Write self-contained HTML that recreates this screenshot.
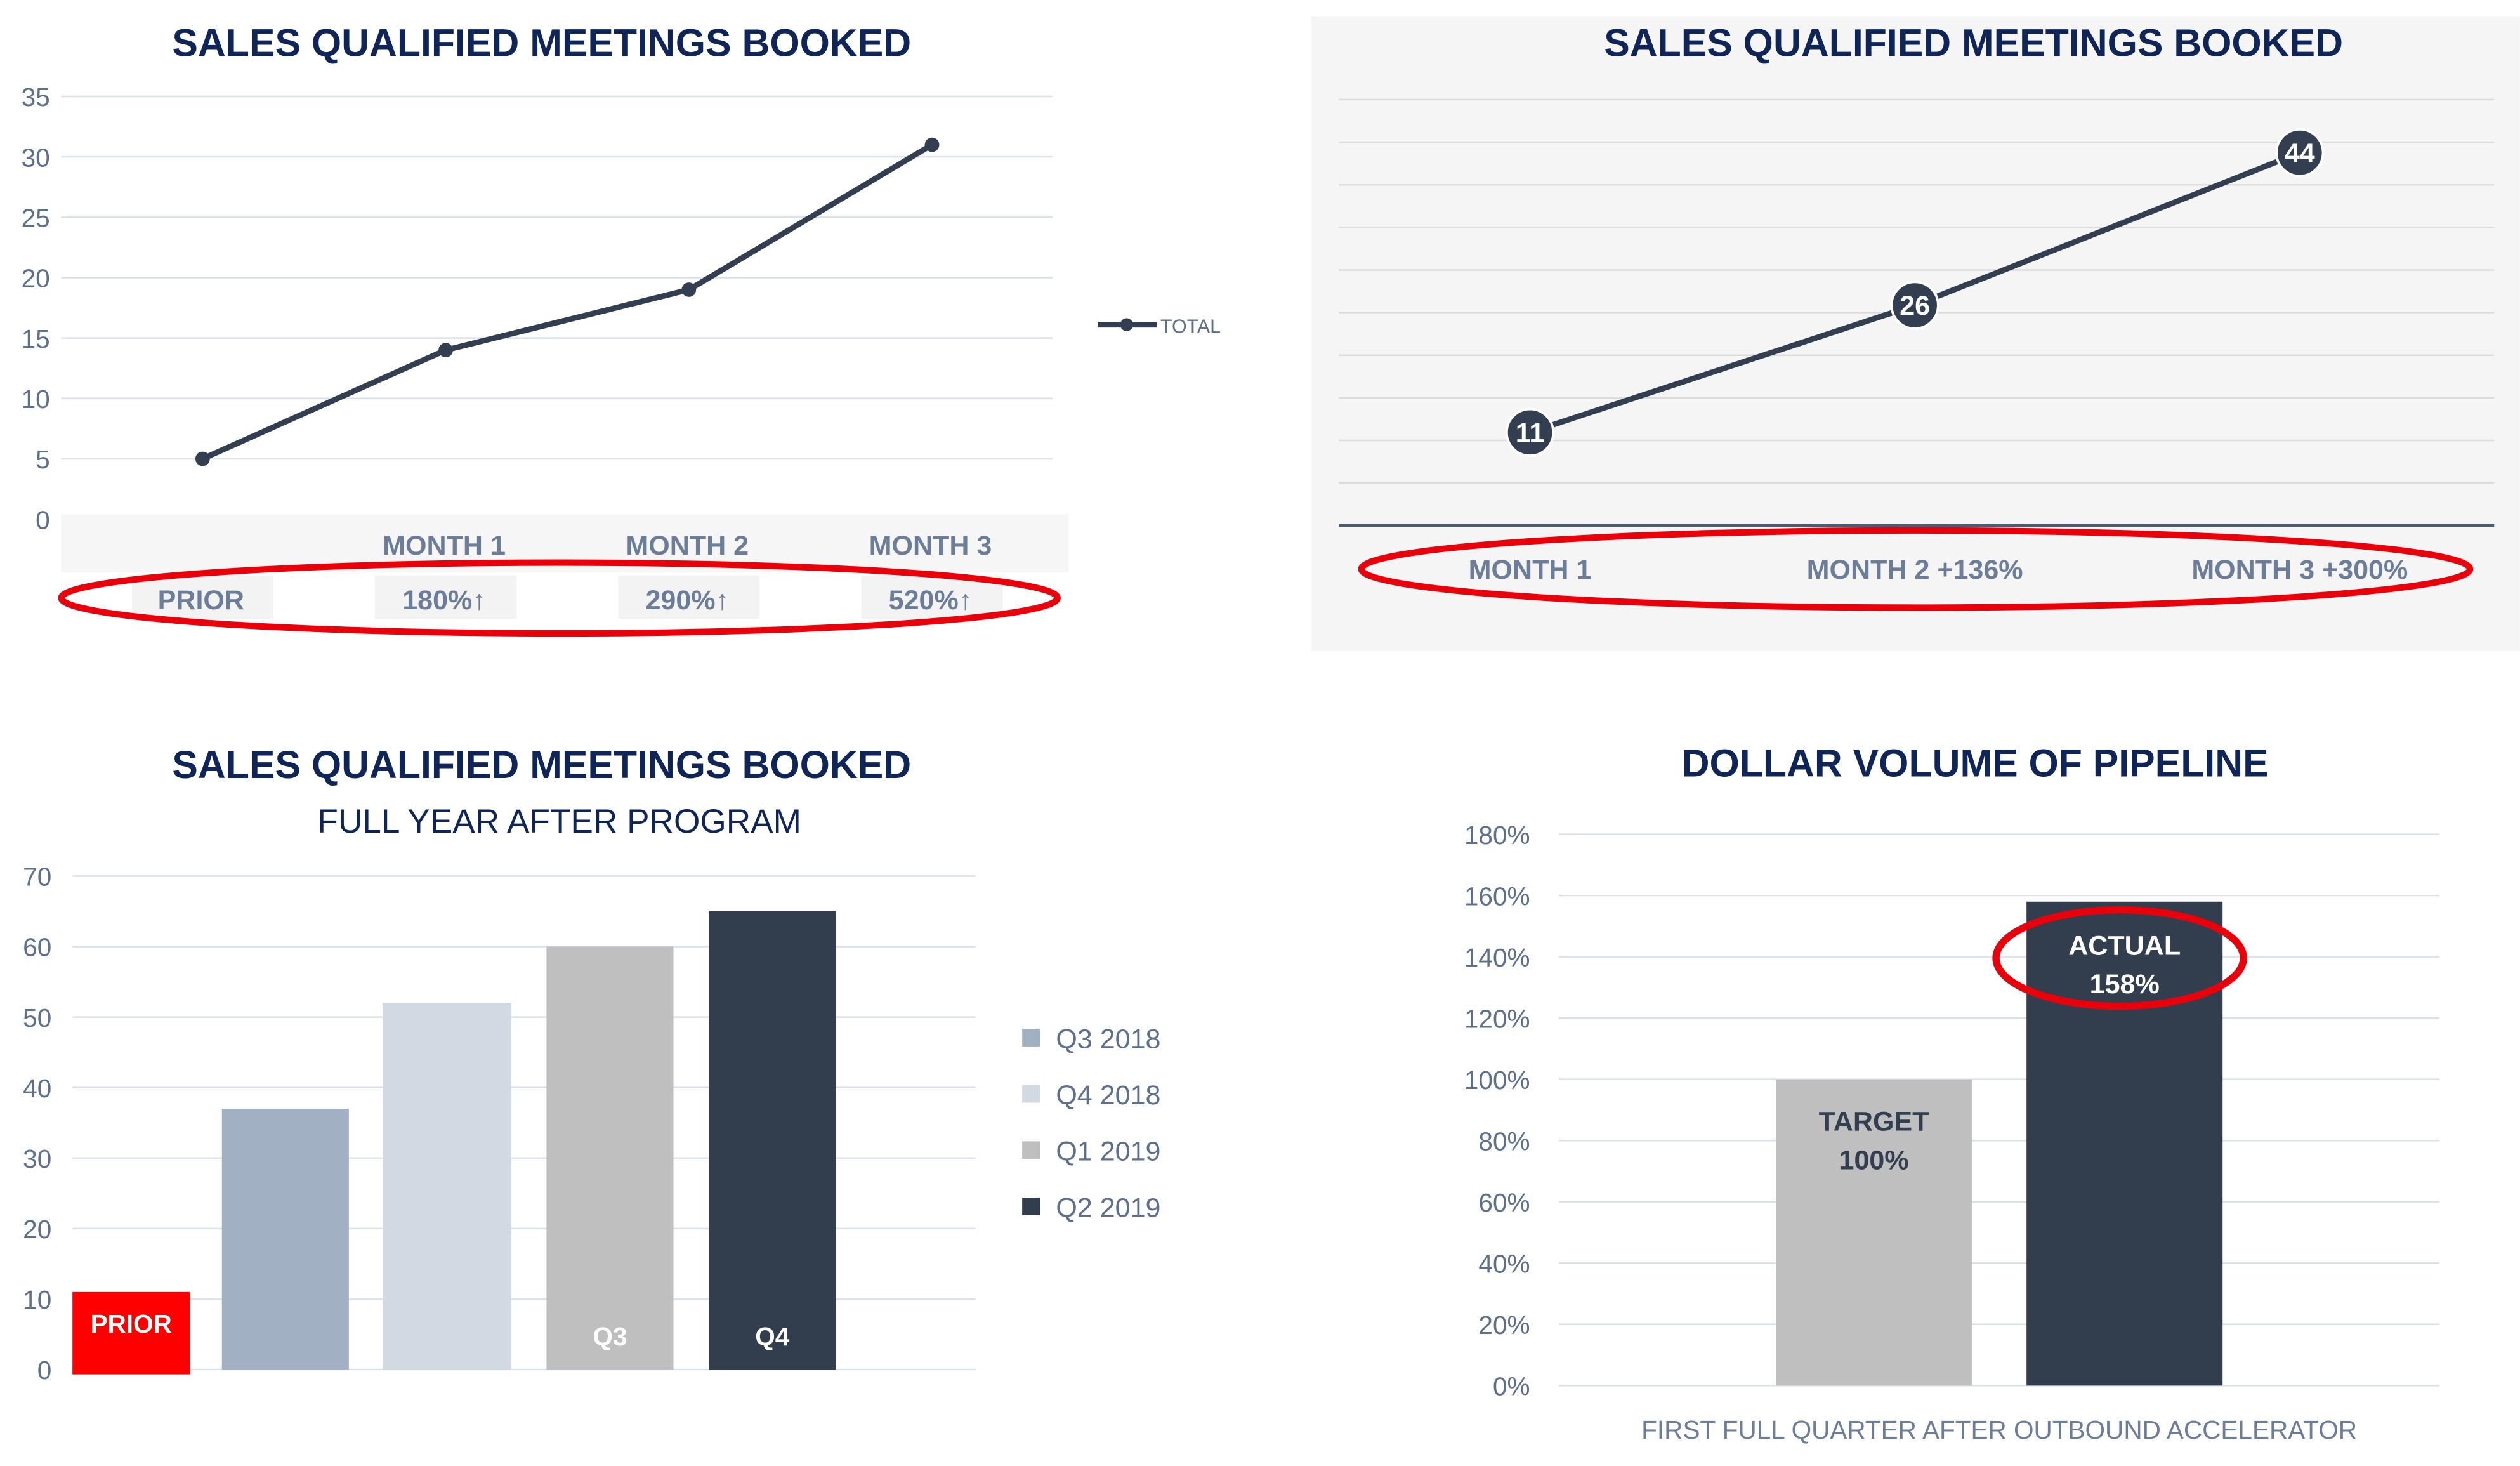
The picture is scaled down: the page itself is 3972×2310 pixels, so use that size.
<!DOCTYPE html>
<html><head><meta charset="utf-8"><style>
html,body{margin:0;padding:0;background:#fff;}
svg{display:block;font-family:"Liberation Sans",sans-serif;}
.t{font-weight:bold;font-size:24px;fill:#0f2557;text-anchor:middle;}
.ax{font-size:16px;fill:#5e6f8c;}
.cat{font-size:17px;fill:#6b7d99;font-weight:bold;text-anchor:middle;}
.g{stroke:#dde1ea;stroke-width:1;}
</style></head><body>
<svg id="root" width="3972" height="2310" viewBox="0 0 1568 912">
<g id="c1"></g>
<g id="c2"></g>
<g id="c3"></g>
<g id="c4"></g>
</svg>
<script>
// Chart 1 data
const c1Cats=["","MONTH 1","MONTH 2","MONTH 3"];
const c1Vals=[5,14,19,31];
const c1Changes=["PRIOR","180%↑","290%↑","520%↑"];
const c1Ticks=[0,5,10,15,20,25,30,35];
// Chart 2 data
const c2Cats=["MONTH 1","MONTH 2 +136%","MONTH 3 +300%"];
const c2Vals=[11,26,44];
// Chart 3 data
const c3Cats=["PRIOR","Q3 2018","Q4 2018","Q1 2019","Q2 2019"];
const c3Vals=[11,37,52,60,65];
const c3Labels=["PRIOR","","","Q3","Q4"];
const c3Ticks=[0,10,20,30,40,50,60,70];
// Chart 4 data
const c4Cats=["TARGET","ACTUAL"];
const c4Vals=[100,158];
const c4Ticks=[0,20,40,60,80,100,120,140,160,180];

const NS="http://www.w3.org/2000/svg";
function mk(p,tag,at,txt){const e=document.createElementNS(NS,tag);for(const k in at)e.setAttribute(k,at[k]);if(txt!==undefined)e.textContent=txt;p.appendChild(e);return e;}

// ---- Chart 1
(function(){
const g=document.getElementById('c1');
const y=v=>323-v*(263/35);
const x=i=>126+i*151.3;
let e=mk(g,'text',{x:337,y:35,class:'t'},'SALES QUALIFIED MEETINGS BOOKED');


c1Ticks.forEach(t=>{
 if(t>0){e=mk(g,'line',{x1:38,x2:655,y1:y(t),y2:y(t),class:'g'});
 
 }
 e=mk(g,'text',{x:31,y:y(t)+6,class:'ax','text-anchor':'end'},t);
 
 
});
e=mk(g,'rect',{x:38,y:320,width:627,height:36,fill:'#f6f6f6'});


c1Cats.forEach((c,i)=>{
 if(c){e=mk(g,'text',{x:x(i)-1,y:345,class:'cat'},c);
 
 }
 e=mk(g,'rect',{x:x(i)-44,y:358,width:88,height:27,fill:'#f3f3f3'});
 
 
 e=mk(g,'text',{x:x(i)-1,y:379,class:'cat'},c1Changes[i]);
 
 
});
e=mk(g,'polyline',{points:c1Vals.map((v,i)=>x(i)+','+y(v)).join(' '),fill:'none',stroke:'#333f50','stroke-width':3.5});


c1Vals.forEach((v,i)=>{e=mk(g,'circle',{cx:x(i),cy:y(v),r:4.5,fill:'#333f50'});
 
 });
e=mk(g,'ellipse',{cx:348,cy:372,rx:310,ry:22,fill:'none',stroke:'#e8000b','stroke-width':4});


e=mk(g,'line',{x1:683,x2:720,y1:202,y2:202,stroke:'#333f50','stroke-width':3.5});


mk(g,'circle',{cx:701,cy:202,r:4,fill:'#333f50'});
e=mk(g,'text',{x:722,y:207,'font-size':12,fill:'#5e6f8c'},'TOTAL');


})();

// ---- Chart 2
(function(){
const g=document.getElementById('c2');
const y=v=>327-v*(232/44);
const x=i=>952+i*239.5;
let e=mk(g,'rect',{x:816,y:10,width:752,height:395,fill:'#f5f5f5'});


e=mk(g,'text',{x:1228,y:35,class:'t'},'SALES QUALIFIED MEETINGS BOOKED');


for(let k=1;k<=10;k++){const yy=327-k*26.5;
 e=mk(g,'line',{x1:833,x2:1552,y1:yy,y2:yy,stroke:'#dcdcdc'});
 
 }
e=mk(g,'line',{x1:833,x2:1552,y1:327,y2:327,stroke:'#4b5b73','stroke-width':2});


e=mk(g,'polyline',{points:c2Vals.map((v,i)=>x(i)+','+y(v)).join(' '),fill:'none',stroke:'#333f50','stroke-width':3.5});


c2Vals.forEach((v,i)=>{
 e=mk(g,'circle',{cx:x(i),cy:y(v),r:14.5,fill:'#333f50',stroke:'#fff','stroke-width':1.5});
 
 
 e=mk(g,'text',{x:x(i),y:y(v)+6,fill:'#fff','font-weight':'bold','font-size':17,'text-anchor':'middle'},v);
 
 
 e=mk(g,'text',{x:x(i),y:360,class:'cat'},c2Cats[i]);
 
 
});
e=mk(g,'ellipse',{cx:1192,cy:354,rx:345,ry:24,fill:'none',stroke:'#e8000b','stroke-width':4});


})();

// ---- Chart 3
(function(){
const g=document.getElementById('c3');
const y=v=>852-v*(307/70);
const bx=[45,138,238,340,441], bw=[73,79,80,79,79];
const cols=['#ff0000','#a2b0c3','#d2d9e2','#bfbfbf','#323d4d'];
let e=mk(g,'text',{x:337,y:484,class:'t'},'SALES QUALIFIED MEETINGS BOOKED');


e=mk(g,'text',{x:348,y:518,'font-size':21,fill:'#0f2557','text-anchor':'middle'},'FULL YEAR AFTER PROGRAM');


c3Ticks.forEach(t=>{
 e=mk(g,'line',{x1:45,x2:607,y1:y(t),y2:y(t),class:'g'});
 
 
 e=mk(g,'text',{x:32,y:y(t)+6,class:'ax','text-anchor':'end'},t);
 
 
});
c3Vals.forEach((v,i)=>{
 const b=i===0?3:0;
 e=mk(g,'rect',{x:bx[i],y:y(v),width:bw[i],height:852-y(v)+b,fill:cols[i]});
 
 
 if(c3Labels[i]){e=mk(g,'text',{x:bx[i]+bw[i]/2,y:i===0?829:837,fill:'#fff','font-weight':'bold','font-size':16,'text-anchor':'middle'},c3Labels[i]);
 
 }
});
for(let i=1;i<5;i++){const ly=646+(i-1)*35;
 e=mk(g,'rect',{x:636,y:ly-6,width:11,height:11,fill:cols[i]});
 
 
 e=mk(g,'text',{x:657,y:ly+6,'font-size':17,fill:'#5e6f8c'},c3Cats[i]);
 
 }
})();

// ---- Chart 4
(function(){
const g=document.getElementById('c4');
const y=v=>862-v*(343/180);
const bx=[1105,1261], cols=['#bfbfbf','#323d4d'], tc=['#333f50','#fff'];
let e=mk(g,'text',{x:1229,y:483,class:'t'},'DOLLAR VOLUME OF PIPELINE');


c4Ticks.forEach(t=>{
 e=mk(g,'line',{x1:970,x2:1518,y1:y(t),y2:y(t),class:'g'});
 
 
 e=mk(g,'text',{x:952,y:y(t)+6,class:'ax','text-anchor':'end'},t+'%');
 
 
});
c4Vals.forEach((v,i)=>{
 e=mk(g,'rect',{x:bx[i],y:y(v),width:122,height:862-y(v),fill:cols[i]});
 
 
 const ty=y(v)+(i===0?32:33);
 e=mk(g,'text',{x:bx[i]+61,y:ty,fill:tc[i],'font-weight':'bold','font-size':17,'text-anchor':'middle'},c4Cats[i]);
 
 
 e=mk(g,'text',{x:bx[i]+61,y:ty+24,fill:tc[i],'font-weight':'bold','font-size':17,'text-anchor':'middle'},v+'%');
 
 
});
e=mk(g,'ellipse',{cx:1319,cy:596,rx:77,ry:30,fill:'none',stroke:'#e8000b','stroke-width':4.5});


e=mk(g,'text',{x:1244,y:895,'font-size':16,fill:'#6b7d99','text-anchor':'middle'},'FIRST FULL QUARTER AFTER OUTBOUND ACCELERATOR');


})();
</script>
</body></html>
